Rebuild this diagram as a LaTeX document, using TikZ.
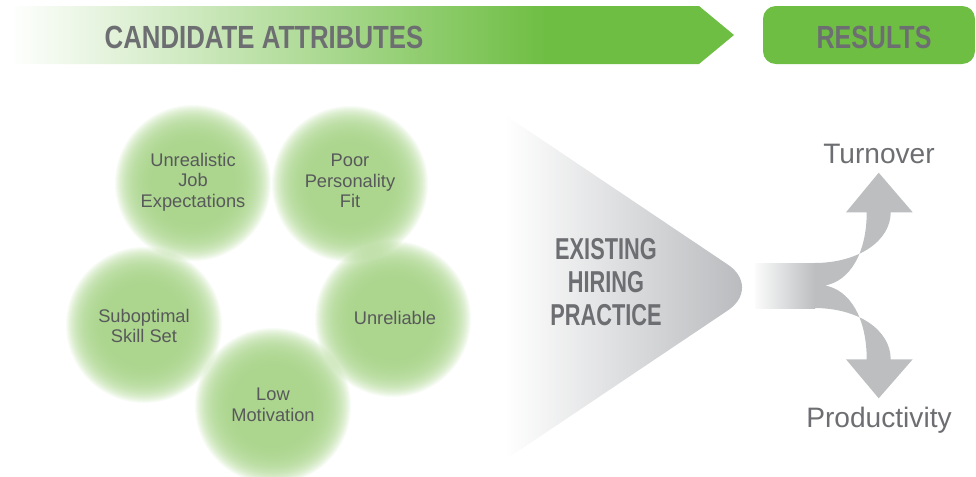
\documentclass[tikz,border=0pt]{standalone}
\usepackage{fontspec}
\setmainfont{Liberation Sans}
\newfontfamily\headfont[FakeStretch=0.78]{Liberation Sans}
\newfontfamily\bannerfont[FakeStretch=0.805]{Liberation Sans}
\newfontfamily\practicefont[FakeStretch=0.72]{Liberation Sans}
\definecolor{bannergreen}{RGB}{111,190,68}
\definecolor{headgrey}{RGB}{109,110,113}
\definecolor{bodygrey}{RGB}{88,89,91}
\definecolor{discgreen}{RGB}{168,212,137}
\definecolor{arrowgrey}{RGB}{188,190,192}
\definecolor{funnelgrey}{RGB}{184,186,189}
% banner fill: pale on the left, full green from about three quarters on
\pgfdeclarehorizontalshading{bannershade}{100bp}{color(0bp)=(white); color(25bp)=(white); color(62bp)=(bannergreen); color(100bp)=(bannergreen)}
\begin{document}
\begin{tikzpicture}[x=0.25mm,y=-0.25mm,
  headtext/.style={font={\headfont\bfseries\fontsize{22.8pt}{24pt}\selectfont}, text=headgrey, inner sep=0pt},
  practicetext/.style={font={\practicefont\bfseries\fontsize{21.5pt}{23.3pt}\selectfont}, text=headgrey, align=center, inner sep=0pt},
  disctext/.style={align=center, inner sep=0pt, text=bodygrey, font={\fontsize{13pt}{14.6pt}\selectfont}},
  resulttext/.style={font={\fontsize{20pt}{22pt}\selectfont}, text=headgrey, inner sep=0pt, anchor=base}]
\useasboundingbox (0,0) rectangle (976,476);

% header banner with arrow point
\shade[shading=bannershade] (8,6) -- (699,6) -- (734,35) -- (699,64) -- (8,64) -- cycle;
\node[headtext, font={\bannerfont\bfseries\fontsize{22.8pt}{24pt}\selectfont}] (attr) at (264,37) {CANDIDATE ATTRIBUTES};

% results tab
\fill[bannergreen, rounded corners=3.2mm] (763,6) rectangle (975,64);
\node[headtext] (results) at (874,37) {RESULTS};

% soft green discs: many thin translucent circles build up a fuzzy rim
\foreach \cx/\cy in {193/183, 350/184, 393/319, 144/325, 273/406}{
  \foreach \r in {78,77,...,40}{
    \fill[discgreen, fill opacity=0.08] (\cx,\cy) circle (\r);
  }
}
\node[disctext] (unreal) at (193,182) {Unrealistic\\Job\\Expectations};
\node[disctext] (poorfit) at (350,181) {Poor\\Personality\\Fit};
\node[disctext] (unreliable) at (395,318) {Unreliable};
\node[disctext] (skills) at (144,326) {Suboptimal\\Skill Set};
\node[disctext] (motivation) at (273,405) {Low\\Motivation};

% hiring-practice funnel with rounded tip
\shade[left color=white, right color=funnelgrey]
  (505,115) -- (728,264.7) .. controls (746.7,277.2) and (746.7,297.8) .. (728,310.3)
  -- (505,460) -- cycle;
\node[practicetext] (practice) at (606,282) {EXISTING\\HIRING\\PRACTICE};

% split arrow toward the two results
\fill[arrowgrey]
  (814,263) .. controls (859,263) and (890.7,240.5) .. (890.7,212.3)
  -- (912.7,212.3) -- (878.7,172.7) -- (846,212.3) -- (866.7,212.3)
  .. controls (866.7,253) and (850,281) .. (825,285.5)
  .. controls (850,290) and (866.7,318) .. (866.7,359.3)
  -- (846,359.3) -- (878.7,398.3) -- (912.7,359.3) -- (890.7,359.3)
  .. controls (890.7,330.5) and (859,308) .. (814,308) -- cycle;
\shade[left color=arrowgrey!6, right color=arrowgrey] (755,263) rectangle (815,308);

\node[resulttext] (turnover) at (879,163.5) {Turnover};
\node[resulttext] (productivity) at (879,427) {Productivity};
\end{tikzpicture}
\end{document}
